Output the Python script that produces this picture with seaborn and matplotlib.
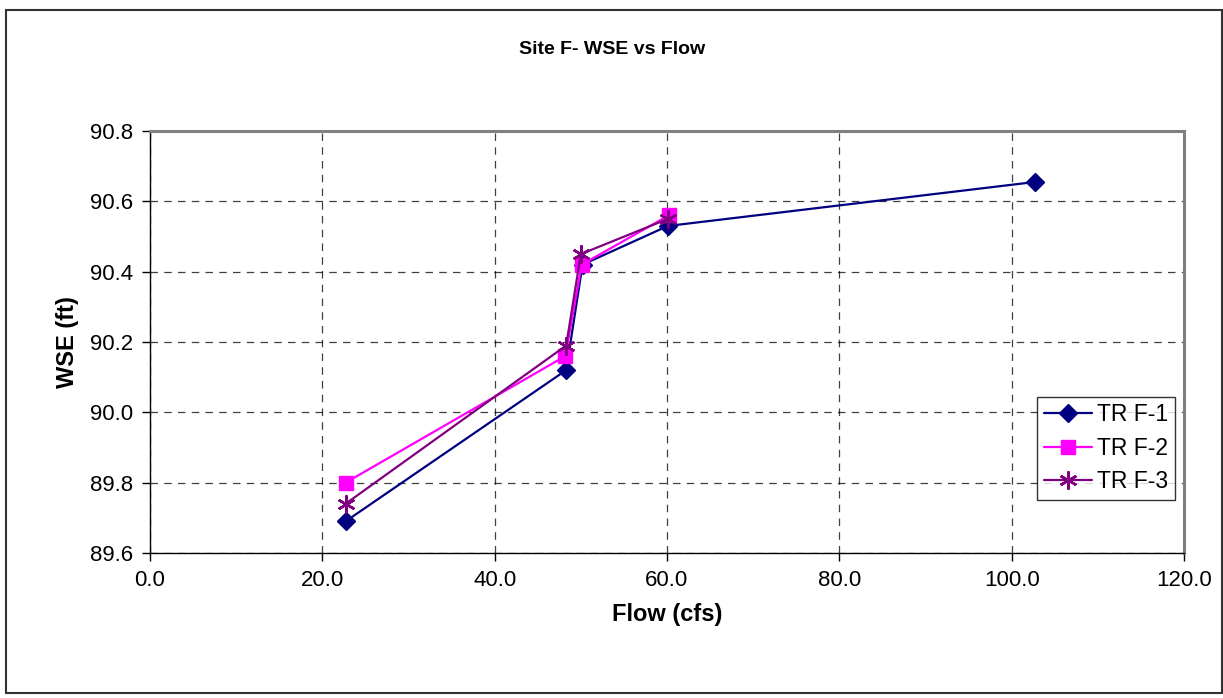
import numpy as np
import pandas as pd
import seaborn as sns
import matplotlib
matplotlib.use("Agg")
import matplotlib.pyplot as plt
from matplotlib.patches import Rectangle

# Measured flow (cfs) and water surface elevation (ft) per transect
flow_f1 = [22.7, 48.3, 50.2, 60.1, 102.7]
wse_f1 = [89.69, 90.12, 90.42, 90.53, 90.655]
flow_f2 = [22.7, 48.2, 50.1, 60.2]
wse_f2 = [89.80, 90.16, 90.42, 90.56]
flow_f3 = [22.7, 48.3, 50.0, 60.1]
wse_f3 = [89.74, 90.19, 90.45, 90.55]

series_names = ["TR F-1", "TR F-2", "TR F-3"]
x_ticks = [0, 20, 40, 60, 80, 100, 120]
y_ticks = [89.6, 89.8, 90.0, 90.2, 90.4, 90.6, 90.8]

df = pd.concat([
    pd.DataFrame({"Flow": flow_f1, "WSE": wse_f1, "Transect": series_names[0]}),
    pd.DataFrame({"Flow": flow_f2, "WSE": wse_f2, "Transect": series_names[1]}),
    pd.DataFrame({"Flow": flow_f3, "WSE": wse_f3, "Transect": series_names[2]}),
], ignore_index=True)

sns.set_style("white")
plt.rcParams["font.family"] = ["Liberation Sans", "DejaVu Sans"]
plt.rcParams["text.color"] = "black"
plt.rcParams["axes.labelcolor"] = "black"
plt.rcParams["xtick.color"] = "black"
plt.rcParams["ytick.color"] = "black"

fig = plt.figure(figsize=(12.23, 6.98), dpi=100)
ax = fig.add_axes([150 / 1223, 1 - 553 / 698, 1034 / 1223, 422 / 698])

palette = {"TR F-1": "#000080", "TR F-2": "#FF00FF", "TR F-3": "#800080"}
markers = {"TR F-1": "D", "TR F-2": "s", "TR F-3": (6, 2, 0)}
sizes = {"TR F-1": 9, "TR F-2": 10, "TR F-3": 13}

for name in series_names:
    sub = df[df["Transect"] == name]
    sns.lineplot(data=sub, x="Flow", y="WSE", ax=ax, sort=False,
                 color=palette[name], marker=markers[name],
                 markersize=sizes[name], markeredgecolor=palette[name],
                 markeredgewidth=1.8 if name == "TR F-3" else 1.0,
                 linewidth=1.6, label=name, estimator=None)

ax.set_xlim(0, 120)
ax.set_ylim(89.6, 90.8)
ax.set_xticks(x_ticks)
ax.set_xticklabels([f"{v:.1f}" for v in x_ticks], fontsize=16)
ax.set_yticks(y_ticks)
ax.set_yticklabels([f"{v:.1f}" for v in y_ticks], fontsize=16)
ax.tick_params(axis="both", direction="out", length=6, width=1, color="black",
               labelcolor="black", bottom=True, left=True, pad=6)
ax.grid(True, color="black", linestyle=(0, (6, 5)), linewidth=0.9, alpha=0.75)

for side in ["left", "bottom"]:
    ax.spines[side].set_color("black")
    ax.spines[side].set_linewidth(1.0)
for side in ["top", "right"]:
    ax.spines[side].set_color("#808080")
    ax.spines[side].set_linewidth(2.2)

ax.set_xlabel("Flow (cfs)", fontsize=17, fontweight="bold", labelpad=9, color="black")
ax.set_ylabel("WSE (ft)", fontsize=17, fontweight="bold", labelpad=8, color="black")
fig.text(612 / 1223, 1 - 50 / 698, "Site F- WSE vs Flow", ha="center", va="center",
         fontsize=14, fontweight="bold", color="black")

leg = ax.legend(loc="lower right", bbox_to_anchor=(0.991, 0.1256), frameon=True,
                fancybox=False, fontsize=16.5, handlelength=2.1, borderpad=0.3,
                labelspacing=0.45, handletextpad=0.2, borderaxespad=0)
leg.get_frame().set_edgecolor("black")
leg.get_frame().set_linewidth(1.0)
for t in leg.get_texts():
    t.set_color("black")

# Outer chart border
fig.patches.append(Rectangle((6 / 1223, 1 - 693 / 698), 1216 / 1223, 683 / 698,
                             transform=fig.transFigure, fill=False,
                             edgecolor="#333333", linewidth=1.5))

fig.savefig("out.png", dpi=100, facecolor="white")
